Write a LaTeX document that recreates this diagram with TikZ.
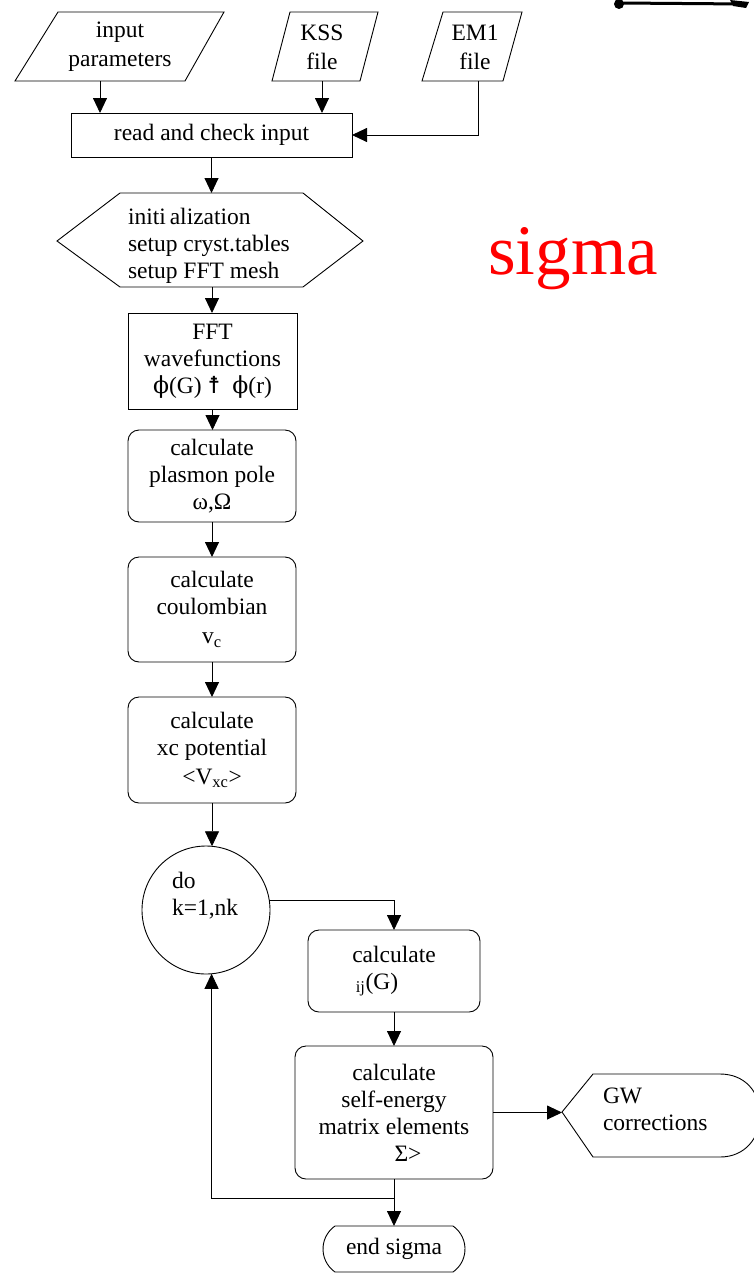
\documentclass[tikz,border=0pt]{standalone}
\usepackage{fontspec}
\setmainfont{Liberation Serif}
\newfontfamily\dvsans{DejaVu Sans}
\newfontfamily\dvserif{DejaVu Serif}
\usetikzlibrary{arrows.meta,shapes.misc}
\begin{document}
\begin{tikzpicture}[x=1pt,y=-1pt,
  every node/.style={font=\fontsize{23.5}{27}\selectfont, inner sep=0pt, outer sep=0pt},
  ln/.style={line width=0.9pt},
  arr/.style={ln, -{Triangle[length=15pt,width=14pt]}},
  rbox/.style={draw, ln, align=center, anchor=north west},
  rrbox/.style={rbox, rounded corners=11pt},
  iotext/.style={align=center, font=\fontsize{23.5}{29}\selectfont},
]
\useasboundingbox (0,0) rectangle (754,1274);

% top-right mark
\fill (619,4) circle (5);
\draw[line width=3pt] (619,3) -- (745,4);
\fill (730,0) -- (749,2) -- (746,8) -- (733,6) -- cycle;

% input parallelograms
\draw[ln] (15,81) -- (185,81) -- (224,12) -- (58,12) -- cycle;
\node[iotext] (inp) at (120,47) {input\\parameters};
\coordinate (inpB) at (100,81);
\draw[ln] (272,81) -- (360,81) -- (378,12) -- (290,12) -- cycle;
\node[iotext] (kss) at (322,47) {KSS\\file};
\coordinate (kssB) at (322,81);
\draw[ln] (422,81) -- (503,81) -- (522,12) -- (443,12) -- cycle;
\node[iotext] (em1) at (475,47) {EM1\\file};
\coordinate (em1B) at (478,81);

% read and check
\node[rbox, minimum width=281pt, minimum height=44pt] (read) at (71,113) {read and check input};
\draw[arr] (inpB) -- (inpB |- read.north);
\draw[arr] (kssB) -- (kssB |- read.north);
\draw[arr] (em1B) |- (read.east);

% initialization hexagon
\draw[ln] (57,241) -- (120,193) -- (303,193) -- (363,241) -- (303,287) -- (120,287) -- cycle;
\node[align=left, anchor=west] (init) at (128,246) {initi\,alization\\setup cryst.tables\\setup FFT mesh};
\coordinate (initT) at (212,193);
\coordinate (initB) at (212,287);
\draw[arr] (read.south) -- (read.south |- initT);

% FFT
\node[rbox, minimum width=169pt, minimum height=96pt] (fft) at (128,313)
  {FFT\\wavefunctions\\{\dvserif ϕ}(G) {\dvsans ☨}\hspace{12pt}{\dvserif ϕ}(r)};
\draw[arr] (initB) -- (initB |- fft.north);

% plasmon
\node[rrbox, minimum width=168pt, minimum height=92pt] (plasmon) at (128,430) {calculate\\plasmon pole\\ω,Ω};
\draw[arr] (fft.south) -- (fft.south |- plasmon.north);

% coulombian
\node[rrbox, minimum width=168pt, minimum height=105pt] (coul) at (128,557) {calculate\\coulombian\\[2pt]v\textsubscript{c}};
\draw[arr] (plasmon.south) -- (plasmon.south |- coul.north);

% xc
\node[rrbox, minimum width=168pt, minimum height=106pt] (xc) at (128,697) {calculate\\xc potential\\[2pt]<V\textsubscript{xc}>};
\draw[arr] (coul.south) -- (coul.south |- xc.north);

% loop circle
\node[draw, ln, circle, minimum size=128pt] (loop) at (206,910) {};
\node[align=left, anchor=west] (looptxt) at (172,896) {do\\k=1,nk};
\draw[arr] (xc.south) -- (xc.south |- loop.85);

% rho_ij
\node[rrbox, minimum width=172pt, minimum height=82pt] (ij) at (308,930) {calculate\\\textsubscript{ij}(G)\hspace*{34pt}};
\draw[arr] (loop.9) -| (ij.north);

% self-energy
\node[rrbox, minimum width=198pt, minimum height=133pt] (self) at (295,1046)
  {calculate\\self-energy\\matrix elements\\\hspace*{28pt}Σ>};
\draw[arr] (ij.south) -- (ij.south |- self.north);

% GW corrections
\draw[ln] (562,1112) -- (593,1074) -- (720,1074) .. controls (745,1074) and (760,1092) .. (760,1115)
  .. controls (760,1138) and (745,1157) .. (720,1157) -- (593,1157) -- cycle;
\node[align=left, anchor=west] (gw) at (603,1109) {GW\\corrections};
\coordinate (gwtip) at (562,1112);
\draw[arr] (self.east) -- (self.east -| gwtip);

% end
\node[draw, ln, rounded rectangle, rounded rectangle arc length=110, minimum width=142pt, minimum height=46pt] (end) at (394,1249) {end sigma};
\coordinate (j) at (394,1198);
\draw[ln] (self.south) -- (j);
\draw[arr] (j) -- (end.north);
\draw[arr] (j) -| (loop.-85);

% title
\node[anchor=base, text=red, font=\fontsize{71}{80}\selectfont] (title) at (573,274) {sigma};
\end{tikzpicture}
\end{document}
